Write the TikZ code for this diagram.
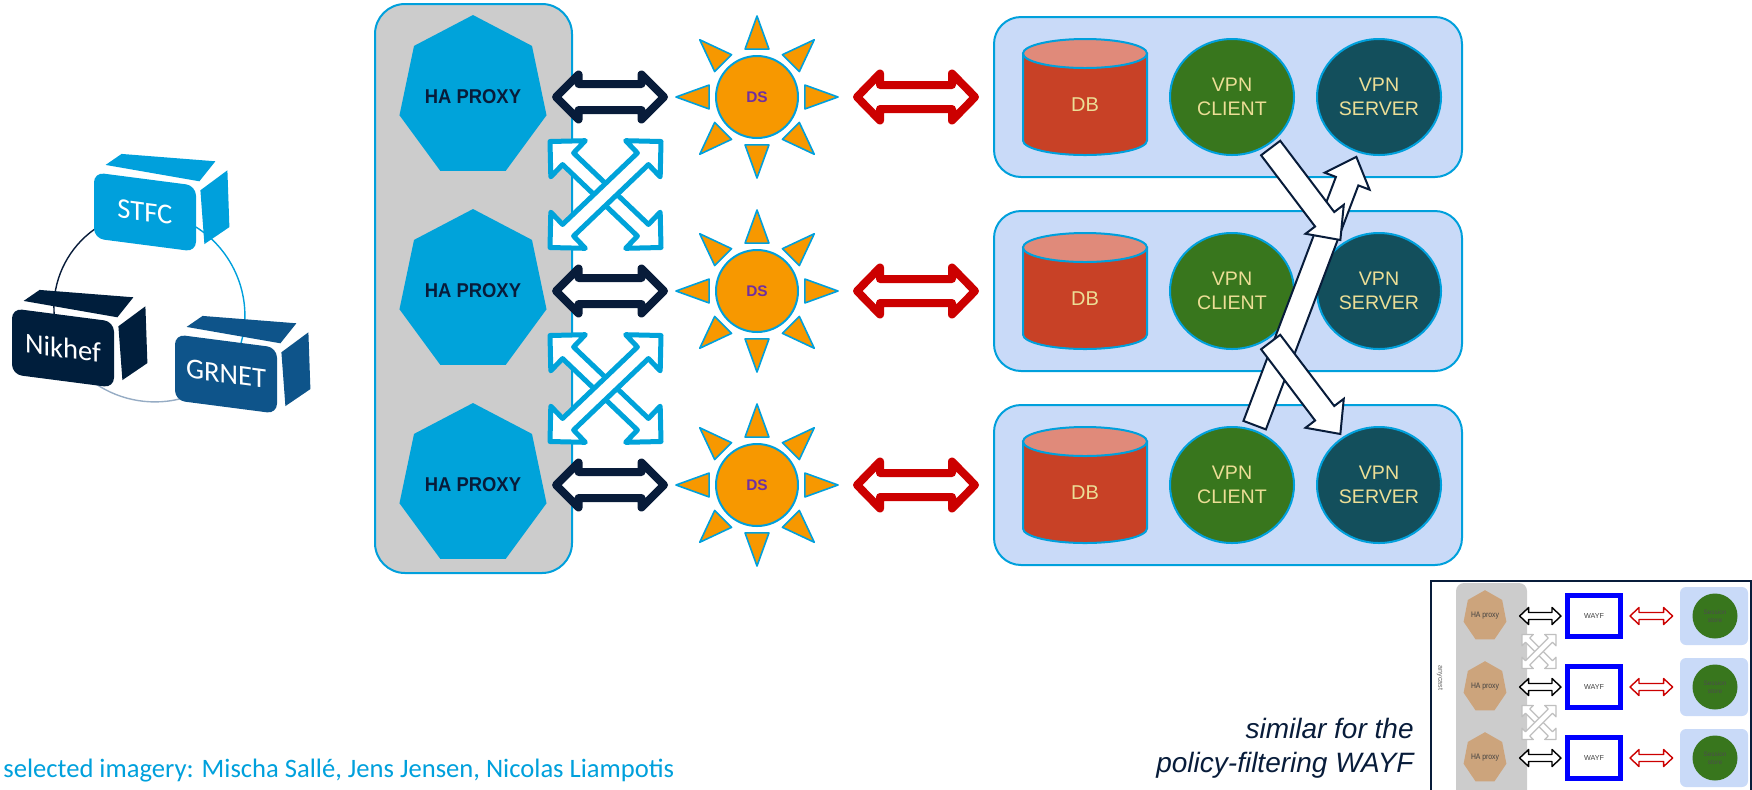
\documentclass[tikz,border=0pt]{standalone}
\usepackage{fontspec}
\setmainfont{Liberation Sans}
\newfontfamily\carlito{Carlito}
\usetikzlibrary{calc,shapes.geometric,backgrounds}

\definecolor{haBlue}{RGB}{0,163,218}
\definecolor{edgeBlue}{RGB}{0,160,220}
\definecolor{navy}{RGB}{8,28,58}
\definecolor{panelGray}{RGB}{204,204,204}
\definecolor{sunOrange}{RGB}{247,152,0}
\definecolor{dsPurple}{RGB}{112,48,160}
\definecolor{arrRed}{RGB}{204,0,0}
\definecolor{boxBlue}{RGB}{201,218,248}
\definecolor{dbRed}{RGB}{200,65,38}
\definecolor{dbTop}{RGB}{224,138,122}
\definecolor{vpnGreen}{RGB}{56,118,29}
\definecolor{vpnTeal}{RGB}{19,79,92}
\definecolor{paleText}{RGB}{236,222,150}
\definecolor{stfcBlue}{RGB}{0,160,220}
\definecolor{nikhefNavy}{RGB}{0,30,60}
\definecolor{grnetBlue}{RGB}{14,84,138}
\definecolor{ringGray}{RGB}{150,172,196}
\definecolor{proxyTan}{RGB}{204,164,124}
\definecolor{wayfBlue}{RGB}{0,0,255}

\tikzset{
  arr gap/.store in=\arrgap,
  arr shaft/.store in=\arrshaft,
  arr head/.store in=\arrhead,
  arr len/.store in=\arrlen,
  arr gap=0pt, arr shaft=6pt, arr head=12pt, arr len=12pt,
  both heads/.style={to path={
      ($(\tikztostart)!\arrgap!(\tikztotarget)$)
      -- ($(\tikztostart)!\arrgap+\arrlen!(\tikztotarget)!\arrhead!90:(\tikztotarget)$)
      -- ($(\tikztostart)!\arrgap+\arrlen!(\tikztotarget)!\arrshaft!90:(\tikztotarget)$)
      -- ($(\tikztotarget)!\arrgap+\arrlen!(\tikztostart)!\arrshaft!-90:(\tikztostart)$)
      -- ($(\tikztotarget)!\arrgap+\arrlen!(\tikztostart)!\arrhead!-90:(\tikztostart)$)
      -- ($(\tikztotarget)!\arrgap!(\tikztostart)$)
      -- ($(\tikztotarget)!\arrgap+\arrlen!(\tikztostart)!\arrhead!90:(\tikztostart)$)
      -- ($(\tikztotarget)!\arrgap+\arrlen!(\tikztostart)!\arrshaft!90:(\tikztostart)$)
      -- ($(\tikztostart)!\arrgap+\arrlen!(\tikztotarget)!\arrshaft!-90:(\tikztotarget)$)
      -- ($(\tikztostart)!\arrgap+\arrlen!(\tikztotarget)!\arrhead!-90:(\tikztotarget)$)
      -- cycle}},
  one head/.style={to path={
      ($(\tikztostart)!\arrgap!(\tikztotarget)!\arrshaft!90:(\tikztotarget)$)
      -- ($(\tikztotarget)!\arrgap+\arrlen!(\tikztostart)!\arrshaft!-90:(\tikztostart)$)
      -- ($(\tikztotarget)!\arrgap+\arrlen!(\tikztostart)!\arrhead!-90:(\tikztostart)$)
      -- ($(\tikztotarget)!\arrgap!(\tikztostart)$)
      -- ($(\tikztotarget)!\arrgap+\arrlen!(\tikztostart)!\arrhead!90:(\tikztostart)$)
      -- ($(\tikztotarget)!\arrgap+\arrlen!(\tikztostart)!\arrshaft!90:(\tikztostart)$)
      -- ($(\tikztostart)!\arrgap!(\tikztotarget)!\arrshaft!-90:(\tikztotarget)$)
      -- cycle}},
}

\begin{document}
\begin{tikzpicture}[x=0.5pt,y=-0.5pt,
  panel/.style={draw=edgeBlue, fill=panelGray, line width=1pt, rounded corners=15pt, minimum width=98.5pt, minimum height=284.5pt},
  proxy/.style={regular polygon, regular polygon sides=7, xscale=0.92, fill=haBlue, minimum size=70pt, inner sep=0pt, text=navy, font=\bfseries\fontsize{10}{12}\selectfont},
  sun/.style={circle, draw=edgeBlue, fill=sunOrange, line width=1pt, minimum size=41pt, inner sep=0pt, text=dsPurple, font=\bfseries\fontsize{7.7}{9}\selectfont},
  ray/.style={draw=edgeBlue, fill=sunOrange, line width=0.8pt, line join=round},
  rowbox/.style={draw=edgeBlue, fill=boxBlue, line width=1pt, rounded corners=13.5pt, minimum width=234pt, minimum height=80pt},
  dbside/.style={draw=edgeBlue, fill=dbRed, line width=1pt},
  dbcap/.style={draw=edgeBlue, fill=dbTop, line width=1pt},
  dblabel/.style={inner sep=0pt, text=paleText, font=\fontsize{10}{12}\selectfont},
  vpn/.style={ellipse, draw=edgeBlue, line width=1pt, minimum width=62pt, minimum height=58pt, inner sep=0pt, align=center, text=paleText, font=\fontsize{9.8}{12}\selectfont},
  navyarr/.style={both heads, draw=navy, fill=white, line width=4pt, line join=round, arr shaft=6.5pt, arr head=11.25pt, arr len=11.25pt},
  redarr/.style={both heads, draw=arrRed, fill=white, line width=4pt, line join=round, arr shaft=6pt, arr head=11.75pt, arr len=11.5pt},
  crossarr/.style={both heads, draw=haBlue, fill=white, line width=2.5pt, line join=round, arr shaft=4pt, arr head=12.5pt, arr len=12.5pt},
  hoparr/.style={one head, draw=navy, fill=white, line width=1pt, arr gap=32pt, arr shaft=6pt, arr head=12pt, arr len=13pt},
  cube/.style={rectangle, rounded corners=5pt, minimum width=51pt, minimum height=33pt, yslant=-0.13, text=white, font=\carlito\fontsize{14.3}{16}\selectfont},
  ring/.style={line width=0.7pt},
  minipanel/.style={fill=panelGray, rounded corners=4pt, minimum width=35.5pt, minimum height=113.5pt},
  miniproxy/.style={regular polygon, regular polygon sides=7, xscale=0.85, fill=proxyTan, minimum size=24pt, inner sep=0pt, text=black!75, font=\fontsize{4}{4.5}\selectfont},
  miniwayf/.style={draw=wayfBlue, line width=2.5pt, fill=white, minimum width=26.5pt, minimum height=20.5pt, inner sep=0pt, text=black!75, font=\fontsize{3.6}{4}\selectfont},
  minibox/.style={fill=boxBlue, rounded corners=3pt, minimum width=34pt, minimum height=29pt},
  minisession/.style={circle, fill=vpnGreen, minimum size=22.5pt, inner sep=0pt, align=center, text=black!70, font=\fontsize{3.2}{3.8}\selectfont},
  miniarr/.style={both heads, draw=black, fill=white, line width=0.7pt, line join=round, arr shaft=1.75pt, arr head=4.25pt, arr len=4.5pt},
  minired/.style={miniarr, draw=arrRed},
  minicross/.style={both heads, draw=black!25, fill=white, line width=0.6pt, line join=round, arr shaft=1.5pt, arr head=4pt, arr len=4pt}]

\useasboundingbox (0,0) rectangle (1752,789);
\clip (0,0) rectangle (1752,789);

\foreach \n/\c/\p/\t in {stfc/stfcBlue/{145,212}/STFC, nikhef/nikhefNavy/{63,348}/Nikhef, grnet/grnetBlue/{226,374}/GRNET}{
  \node[cube, fill=\c] (\n) at (\p) {\t};
  \fill[\c] ($(\n.north west)+(12,-7)$) -- ($(\n.north west)+(28,-18)$) -- ($(\n.north east)+(19,-24)$) -- ($(\n.north east)+(3,-4)$) -- cycle;
  \fill[\c] ($(\n.north east)+(4,5)$) -- ($(\n.north east)+(31,-15)$) -- ($(\n.south east)+(33,-25)$) -- ($(\n.south east)+(8,-8)$) -- cycle;
}
\begin{scope}[on background layer]
  \draw[ring, navy] (stfc.center) to[bend right=56, looseness=1.1] (nikhef.center);
  \draw[ring, stfcBlue] (stfc.center) to[bend left=62, looseness=1.15] (grnet.center);
  \draw[ring, ringGray] (nikhef.center) to[bend right=52, looseness=1.05] (grnet.center);
\end{scope}

\node[panel] (proxies) at (473.5,288.5) {};
\foreach \i/\y in {1/97,2/291,3/485}{
  \node[proxy] (ha\i) at (473,\y) {HA PROXY};
  \node[sun] (ds\i) at (757,\y) {DS};
  \foreach \a in {0,45,...,315}
    \draw[ray] ($(ds\i)+(\a-14:24.7pt)$) -- ($(ds\i)+(\a:40.5pt)$) -- ($(ds\i)+(\a+14:24.7pt)$) -- cycle;
  \node[rowbox] (row\i) at (1228,\y) {};
  \coordinate (dbc\i) at (1085,\y+8);
  \draw[dbside] ($(dbc\i)+(-62,-51.5)$) -- ($(dbc\i)+(-62,35.5)$) arc[start angle=180, end angle=0, x radius=62, y radius=14.5] -- ($(dbc\i)+(62,-51.5)$) -- cycle;
  \draw[dbcap] ($(dbc\i)+(0,-51.5)$) ellipse[x radius=62, y radius=14.5];
  \node[dblabel] (db\i) at (dbc\i) {DB};
  \node[vpn, fill=vpnGreen] (vpnc\i) at (1232,\y) {VPN\\CLIENT};
  \node[vpn, fill=vpnTeal] (vpns\i) at (1379,\y) {VPN\\SERVER};
  \draw[navyarr] ([xshift=6.5pt]ha\i.east) to ([xshift=-25.5pt]ds\i.west);
  \draw[redarr] ([xshift=29pt]ds\i.east) to ([xshift=-9pt]row\i.west);
}
\foreach \k/\c in {1/194.5, 2/388.5}{
  \coordinate (xnw\k) at (550,\c-53);
  \coordinate (xse\k) at (661,\c+53);
  \coordinate (xsw\k) at (550,\c+53);
  \coordinate (xne\k) at (661,\c-53);
  \draw[crossarr] (xnw\k) to (xse\k);
  \draw[crossarr] (xsw\k) to (xne\k);
}
\draw[hoparr] (vpnc3) to (vpns1);
\draw[hoparr] (vpnc1) to (vpns2);
\draw[hoparr] (vpnc2) to (vpns3);

\node[anchor=base west, inner sep=0pt, text=edgeBlue, font=\carlito\fontsize{13.3}{15}\selectfont] (credits) at (3,777) {selected imagery: Mischa Sallé, Jens Jensen, Nicolas Liampotis};
\node[anchor=east, align=right, inner sep=0pt, text=navy, font=\itshape\fontsize{14}{17}\selectfont] (similar) at (1414,748) {similar for the\\policy-filtering WAYF};

\draw[navy, line width=1pt] (1431,581) rectangle (1751,800);
\node[minipanel] (minipanel) at (1491.5,696.5) {};
\node[rotate=-90, inner sep=0pt, text=black!60, font=\fontsize{3.6}{4}\selectfont] (anycast) at (1440,678) {anycast};
\foreach \i/\y in {1/616,2/687,3/758}{
  \node[miniproxy] (hp\i) at (1485,\y) {HA proxy};
  \node[miniwayf] (wayf\i) at (1594,\y) {WAYF};
  \node[minibox] (sbox\i) at (1714,\y) {};
  \node[minisession] (sess\i) at (1715,\y) {Session\\store};
  \draw[miniarr] ([xshift=7pt]hp\i.east) to ([xshift=-2pt]wayf\i.west);
  \draw[minired] ([xshift=3.5pt]wayf\i.east) to ([xshift=-3.5pt]sbox\i.west);
}
\foreach \k/\c in {1/651.5, 2/722.5}{
  \coordinate (mnw\k) at (1522,\c-17);
  \coordinate (mse\k) at (1556,\c+17);
  \coordinate (msw\k) at (1522,\c+17);
  \coordinate (mne\k) at (1556,\c-17);
  \draw[minicross] (mnw\k) to (mse\k);
  \draw[minicross] (msw\k) to (mne\k);
}
\end{tikzpicture}
\end{document}
